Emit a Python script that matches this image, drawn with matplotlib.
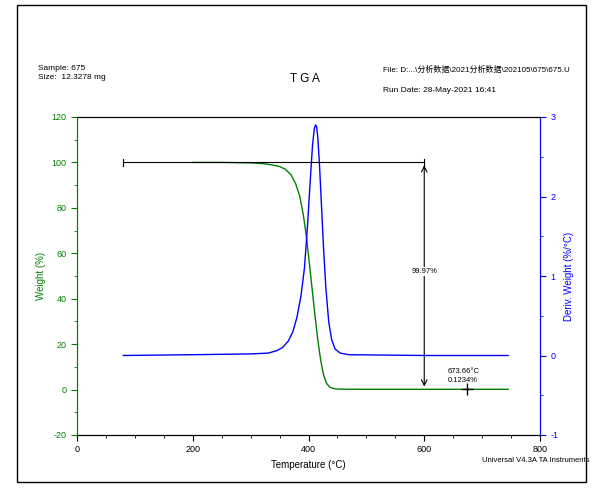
import numpy as np
import matplotlib.pyplot as plt
from matplotlib.ticker import AutoMinorLocator

plt.rcParams['font.family'] = ['Liberation Sans', 'Noto Sans CJK SC']
plt.rcParams['axes.unicode_minus'] = False

temp_w = [200, 250, 300, 320, 335, 350, 360, 370, 378, 385, 391, 396, 400, 406, 411, 416, 421, 426, 431, 437, 446, 460, 500, 600, 673.66, 745]
weight = [100, 100, 99.8, 99.5, 99.0, 98.2, 97.0, 94.5, 90.5, 85, 77, 68, 59, 45, 33, 22, 13, 6.5, 2.8, 1.0, 0.3, 0.15, 0.12, 0.12, 0.1234, 0.12]

temp_d = [80, 200, 300, 330, 345, 355, 365, 373, 380, 387, 393, 398, 403, 407, 410, 412, 414, 416, 419, 422, 426, 430, 435, 440, 446, 455, 470, 600, 745]
deriv = [0, 0.01, 0.02, 0.03, 0.06, 0.1, 0.18, 0.3, 0.48, 0.75, 1.1, 1.6, 2.2, 2.65, 2.85, 2.9, 2.88, 2.75, 2.4, 1.95, 1.35, 0.85, 0.42, 0.2, 0.08, 0.03, 0.01, 0.0, 0.0]

green = '#008000'
blue = '#0000ff'

fig = plt.figure(figsize=(6.03, 4.93), dpi=100)
fig.patches.append(plt.Rectangle((0.028, 0.022), 0.943, 0.967, transform=fig.transFigure,
                                 fill=False, edgecolor='black', linewidth=1))
ax = fig.add_axes([77/603, 1-435/493, 463/603, 318/493])
ax2 = ax.twinx()

ax.plot(temp_w, weight, color=green, linewidth=1)
ax2.plot(temp_d, deriv, color=blue, linewidth=1)

ax.set_xlim(0, 800)
ax.set_ylim(-20, 120)
ax2.set_ylim(-1, 3)
ax.set_xticks([0, 200, 400, 600, 800])
ax.set_yticks(range(-20, 121, 20))
ax2.set_yticks([-1, 0, 1, 2, 3])
for a in (ax, ax2):
    a.xaxis.set_minor_locator(AutoMinorLocator(4))
    a.yaxis.set_minor_locator(AutoMinorLocator(2))
    a.tick_params(labelsize=6.5, length=4)
    a.tick_params(which='minor', length=2)

ax.spines['left'].set_color(green)
ax.tick_params(axis='y', colors=green, which='both')
ax2.spines['right'].set_color(blue)
ax2.spines['left'].set_color(green)
ax2.tick_params(axis='y', colors=blue, which='both')

ax.set_xlabel('Temperature (°C)', fontsize=7)
ax.set_ylabel('Weight (%)', fontsize=7, color=green)
ax2.set_ylabel('Deriv. Weight (%/°C)', fontsize=7, color=blue)

# step annotation
ax.plot([80, 600], [100, 100], color='black', linewidth=0.8)
ax.plot([80, 80], [98.5, 101.5], color='black', linewidth=0.8)
ax.plot([600, 600], [98.5, 101.5], color='black', linewidth=0.8)
ax.annotate('', xy=(600, 0.12), xytext=(600, 100),
            arrowprops=dict(arrowstyle='<->', color='black', linewidth=0.8))
ax.text(600, 52, '99.97%', fontsize=5.5, ha='center', va='center',
        bbox=dict(facecolor='white', edgecolor='none', pad=0.5))
ax.plot([673.66], [0.1234], marker='+', color='black', markersize=8)
ax.text(640, 2.5, '673.66°C\n0.1234%', fontsize=5.5, ha='left', va='bottom', linespacing=1.4)

fig.text(38/603, 1-73/493, 'Sample: 675\nSize:  12.3278 mg', fontsize=6, va='center', linespacing=1.5)
fig.text(305/603, 1-79/493, 'T G A', fontsize=8.5, ha='center', va='center')
fig.text(383/603, 1-70/493, 'File: D:...\\分析数据\\2021分析数据\\202105\\675\\675.U', fontsize=5.8, va='center')
fig.text(383/603, 1-90/493, 'Run Date: 28-May-2021 16:41', fontsize=6, va='center')
fig.text(482/603, 1-461/493, 'Universal V4.3A TA Instruments', fontsize=5.5, va='center')

fig.savefig('out.png', dpi=100)
